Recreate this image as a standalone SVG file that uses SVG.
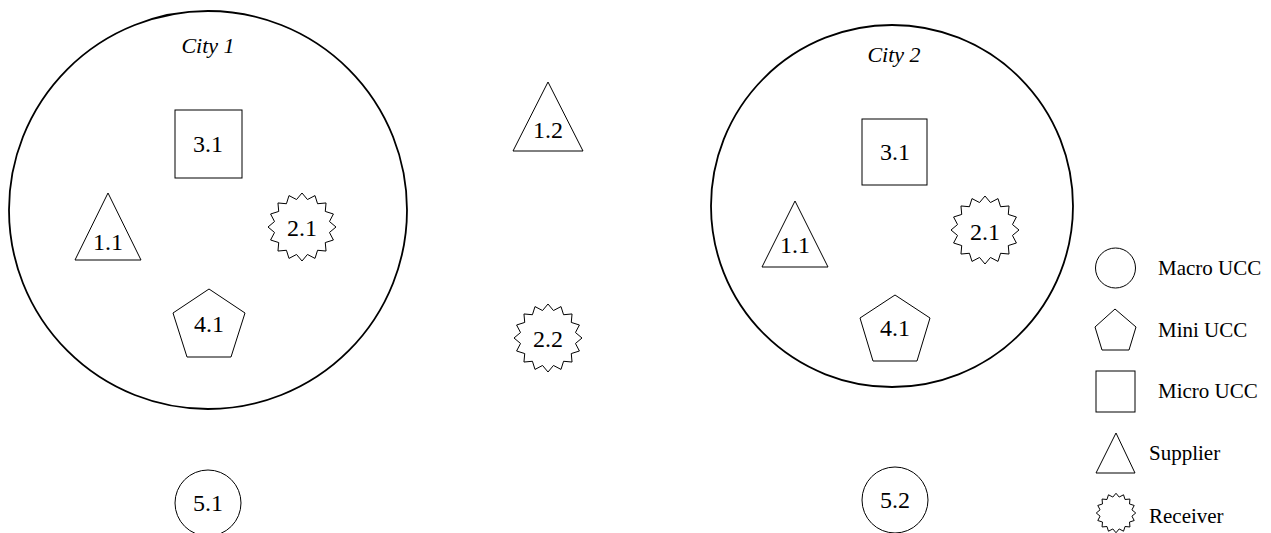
<svg xmlns="http://www.w3.org/2000/svg" width="1271" height="533" viewBox="0 0 1271 533">
  <style>
    .shape { fill: #ffffff; stroke: #000000; stroke-width: 1; }
    .city { fill: none; stroke: #000000; stroke-width: 1.8; }
    .lbl { font-family: "Liberation Serif", "DejaVu Serif", serif; font-size: 24px; fill: #000000; text-anchor: middle; }
    .title { font-family: "Liberation Serif", "DejaVu Serif", serif; font-size: 22px; font-style: italic; fill: #000000; text-anchor: middle; }
    .legend { font-family: "Liberation Serif", "DejaVu Serif", serif; font-size: 21px; fill: #000000; }
  </style>
  <defs>
    <!-- 16-point star, centred on the origin -->
    <polygon id="star" points="0,-34 5.46,-27.46 13.01,-31.41 15.56,-23.28 24.04,-24.04 23.28,-15.56 31.41,-13.01 27.46,-5.46 34,0 27.46,5.46 31.41,13.01 23.28,15.56 24.04,24.04 15.56,23.28 13.01,31.41 5.46,27.46 0,34 -5.46,27.46 -13.01,31.41 -15.56,23.28 -24.04,24.04 -23.28,15.56 -31.41,13.01 -27.46,5.46 -34,0 -27.46,-5.46 -31.41,-13.01 -23.28,-15.56 -24.04,-24.04 -15.56,-23.28 -13.01,-31.41 -5.46,-27.46"/>
  </defs>
  <rect width="1271" height="533" fill="#ffffff"/>

  <!-- City 1 -->
  <g id="city1">
    <circle class="city" cx="208" cy="210" r="199"/>
    <text class="title" x="208" y="53">City 1</text>
  </g>
  <g id="c1-micro-3-1">
    <rect class="shape" x="175" y="110" width="67" height="68"/>
    <text class="lbl" x="208" y="152">3.1</text>
  </g>
  <g id="c1-supplier-1-1">
    <polygon class="shape" points="108,193 141,260 75,260"/>
    <text class="lbl" x="108" y="250">1.1</text>
  </g>
  <g id="c1-receiver-2-1">
    <use href="#star" class="shape" transform="translate(302,227)"/>
    <text class="lbl" x="302" y="236">2.1</text>
  </g>
  <g id="c1-mini-4-1">
    <polygon class="shape" points="209,289 245,313 231,357 187,357 173,313"/>
    <text class="lbl" x="209" y="332">4.1</text>
  </g>
  <g id="macro-5-1">
    <circle class="shape" cx="208" cy="503" r="33"/>
    <text class="lbl" x="208" y="511">5.1</text>
  </g>

  <!-- Between the cities -->
  <g id="supplier-1-2">
    <polygon class="shape" points="548,82 583,151 513,151"/>
    <text class="lbl" x="548" y="138">1.2</text>
  </g>
  <g id="receiver-2-2">
    <use href="#star" class="shape" transform="translate(548,338)"/>
    <text class="lbl" x="548" y="347">2.2</text>
  </g>

  <!-- City 2 -->
  <g id="city2">
    <circle class="city" cx="892" cy="206" r="181"/>
    <text class="title" x="894" y="62">City 2</text>
  </g>
  <g id="c2-micro-3-1">
    <rect class="shape" x="862" y="119" width="65" height="66"/>
    <text class="lbl" x="895" y="160">3.1</text>
  </g>
  <g id="c2-supplier-1-1">
    <polygon class="shape" points="795,201 828,267 762,267"/>
    <text class="lbl" x="795" y="253">1.1</text>
  </g>
  <g id="c2-receiver-2-1">
    <use href="#star" class="shape" transform="translate(985,230)"/>
    <text class="lbl" x="985" y="240">2.1</text>
  </g>
  <g id="c2-mini-4-1">
    <polygon class="shape" points="895,295 930,318 917,361 873,361 860,318"/>
    <text class="lbl" x="895" y="336">4.1</text>
  </g>
  <g id="macro-5-2">
    <circle class="shape" cx="895" cy="500" r="33"/>
    <text class="lbl" x="895" y="508">5.2</text>
  </g>

  <!-- Legend -->
  <g id="legend-macro">
    <circle class="shape" cx="1115.5" cy="268" r="20"/>
    <text class="legend" x="1158" y="275">Macro UCC</text>
  </g>
  <g id="legend-mini">
    <polygon class="shape" points="1115,309 1136,327 1129,350 1102,350 1095,327"/>
    <text class="legend" x="1158" y="337">Mini UCC</text>
  </g>
  <g id="legend-micro">
    <rect class="shape" x="1096" y="371" width="39" height="41"/>
    <text class="legend" x="1158" y="398">Micro UCC</text>
  </g>
  <g id="legend-supplier">
    <polygon class="shape" points="1116,433 1135,473 1096,473"/>
    <text class="legend" x="1149" y="460">Supplier</text>
  </g>
  <g id="legend-receiver">
    <use href="#star" class="shape" vector-effect="non-scaling-stroke" transform="translate(1116,513) scale(0.58)" style="stroke-width:1.7"/>
    <text class="legend" x="1149" y="523">Receiver</text>
  </g>
</svg>
